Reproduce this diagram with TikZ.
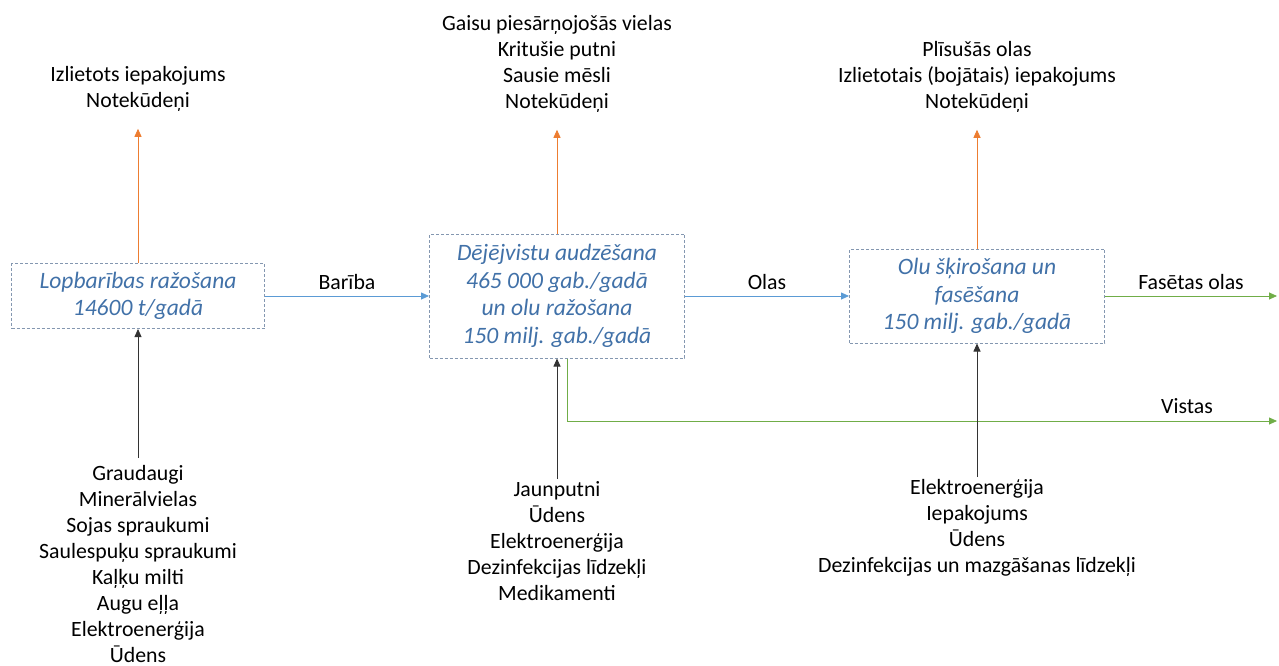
\documentclass[tikz,border=0pt]{standalone}
\usepackage{fontspec}
\setmainfont{Carlito}
\usetikzlibrary{arrows.meta}
\definecolor{zils}{RGB}{91,155,213}
\definecolor{oranzs}{RGB}{237,125,49}
\definecolor{zals}{RGB}{112,173,71}
\definecolor{teksts}{RGB}{65,113,168}
\definecolor{rami}{RGB}{132,151,176}
\begin{document}
\begin{tikzpicture}[x=1pt,y=-1pt]
% Styles
\tikzstyle{fleche}=[-{Triangle[length=8pt,width=7pt]},line width=0.8pt]
\tikzstyle{bloc}=[draw=rami,dash pattern=on 3pt off 2pt,line width=1pt,text=teksts,align=center,font=\fontsize{23.5}{27.5}\selectfont\itshape,inner sep=0pt]
\tikzstyle{liste}=[align=center,font=\fontsize{21.8}{26}\selectfont,inner sep=0pt]
\tikzstyle{etiquette}=[midway,above,font=\fontsize{21.8}{26}\selectfont,inner sep=6pt]
% Dimensions
\def\XA{138}
\def\XB{557}
\def\XC{977}
\def\YBloc{296}
\useasboundingbox (0,0) rectangle (1279,666);
% Blocs
\node[bloc,minimum width=253pt,minimum height=65pt] (bloc1) at (\XA,\YBloc) {Lopbarības ražošana\\14600 t/gadā};
\node[bloc,minimum width=255pt,minimum height=124pt] (bloc2) at (\XB,\YBloc) {Dējējvistu audzēšana\\465 000 gab./gadā\\un olu ražošana\\150 milj. gab./gadā};
\node[bloc,minimum width=255pt,minimum height=94pt] (bloc3) at (\XC,\YBloc) {Olu šķirošana un\\fasēšana\\150 milj. gab./gadā};
% Sorties
\node[liste] (izvade1) at (\XA,89) {Izlietots iepakojums\\Notekūdeņi};
\node[liste] (izvade2) at (\XB,64) {Gaisu piesārņojošās vielas\\Kritušie putni\\Sausie mēsli\\Notekūdeņi};
\node[liste] (izvade3) at (\XC,77) {Plīsušās olas\\Izlietotais (bojātais) iepakojums\\Notekūdeņi};
% Entrées
\node[liste] (ievade1) at (\XA,564) {Graudaugi\\Minerālvielas\\Sojas spraukumi\\Saulespuķu spraukumi\\Kaļķu milti\\Augu eļļa\\Elektroenerģija\\Ūdens};
\node[liste] (ievade2) at (\XB,541) {Jaunputni\\Ūdens\\Elektroenerģija\\Dezinfekcijas līdzekļi\\Medikamenti};
\node[liste] (ievade3) at (\XC,528) {Elektroenerģija\\Iepakojums\\Ūdens\\Dezinfekcijas un mazgāšanas līdzekļi};
% Extrémités
\coordinate (gals1) at (1277,\YBloc);
\coordinate (gals2) at (1277,421);
\node[liste] (vistas) at (1187,406) {Vistas};
% Arcs
\draw[fleche,zils] (bloc1) -- (bloc2) node[etiquette,text=black] {Barība};
\draw[fleche,zils] (bloc2) -- (bloc3) node[etiquette,text=black] {Olas};
\draw[fleche,zals] (bloc3) -- (gals1) node[etiquette,text=black] {Fasētas olas};
\draw[fleche,zals] ([xshift=10pt]bloc2.south) |- (gals2);
\draw[fleche,oranzs,shorten >=17pt] (bloc1) -- (izvade1);
\draw[fleche,oranzs,shorten >=17pt] (bloc2) -- (izvade2);
\draw[fleche,oranzs,shorten >=17pt] (bloc3) -- (izvade3);
\draw[fleche,black!80,shorten <=7pt] (ievade1) -- (bloc1);
\draw[fleche,black!80,shorten <=2pt] (ievade2) -- (bloc2);
\draw[fleche,black!80,shorten <=2pt] (ievade3) -- (bloc3);
\end{tikzpicture}
\end{document}
